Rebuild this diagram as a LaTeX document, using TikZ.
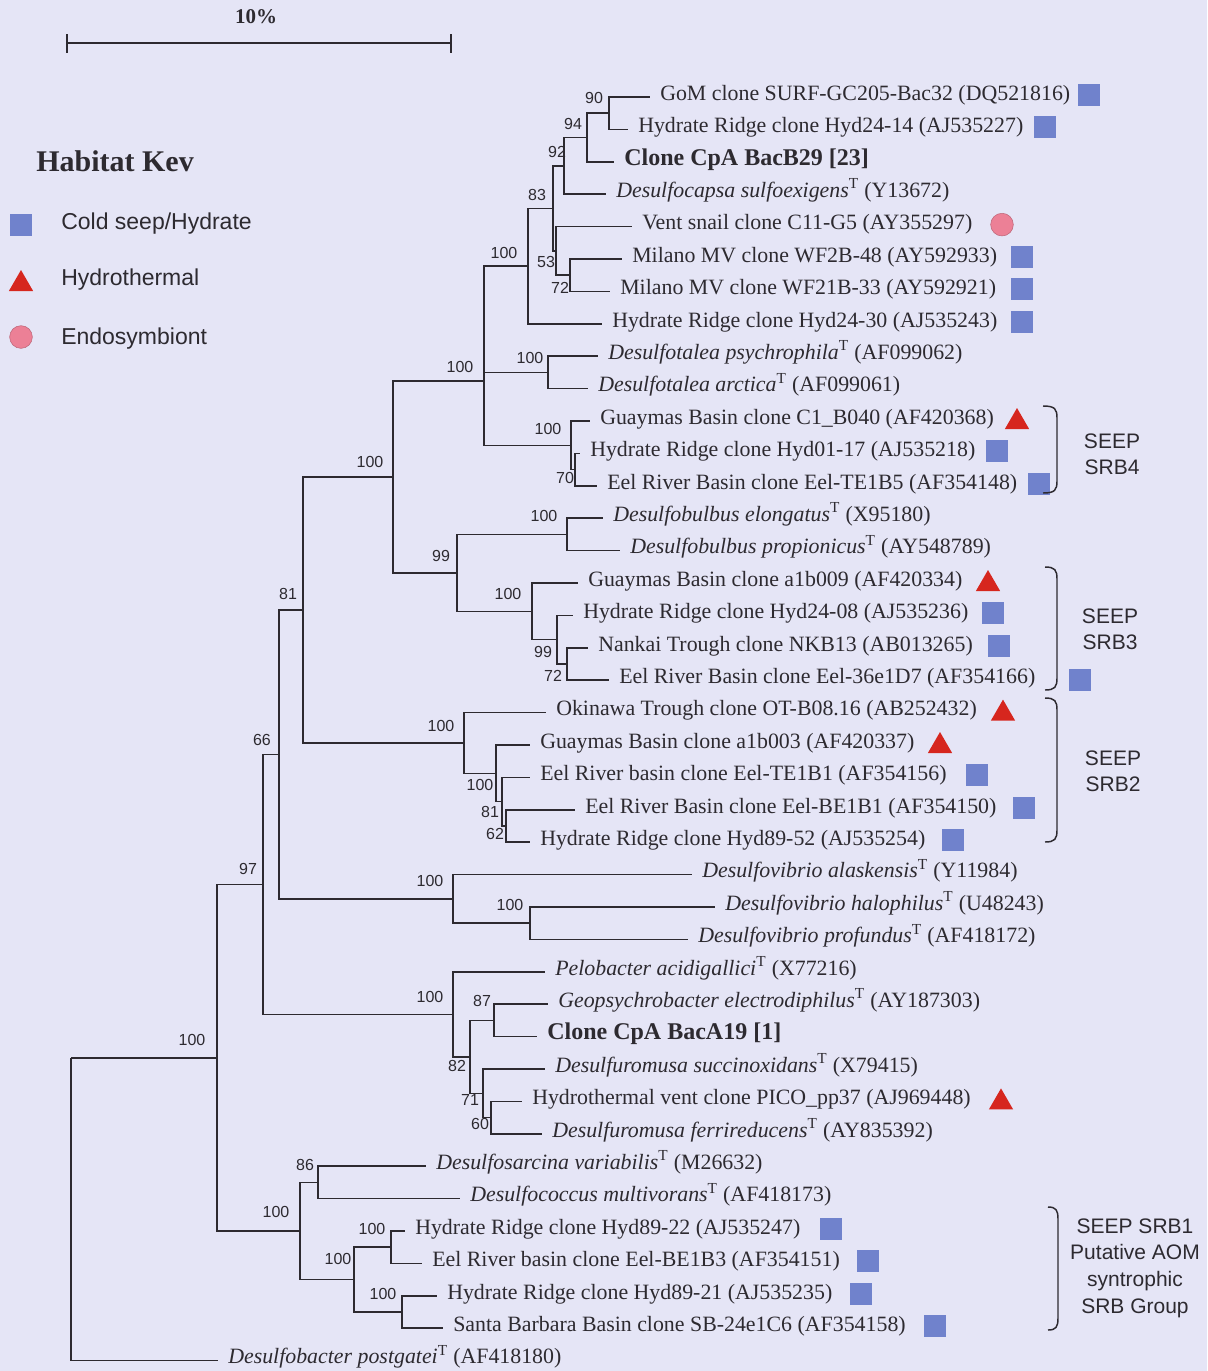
\documentclass[tikz,border=0pt]{standalone}
\usepackage{fontspec}
\setmainfont{Liberation Serif}
\setsansfont{Liberation Sans}
\usetikzlibrary{shapes.geometric}

\definecolor{paper}{RGB}{229,229,246}
\definecolor{ink}{RGB}{45,42,48}
\definecolor{seepblue}{RGB}{112,130,204}
\definecolor{ventred}{RGB}{214,38,30}
\definecolor{symbpink}{RGB}{236,128,150}

\newcommand{\tsup}{\textsuperscript{T}}

\tikzset{
  branch/.style={draw=ink, line width=1.45pt},
  leaf/.style={anchor=base west, inner sep=0pt, xshift=7.5pt, yshift=-2.25pt, text=ink, font=\fontsize{16.4}{19}\selectfont},
  boot/.style={inner sep=0pt, text=ink, font=\sffamily\fontsize{12}{14}\selectfont},
  seep/.style={rectangle, fill=seepblue, minimum size=16.5pt, inner sep=0pt},
  vent/.style={regular polygon, regular polygon sides=3, fill=ventred, minimum size=21pt, inner sep=0pt},
  symb/.style={circle, fill=symbpink, draw=symbpink!80!black, minimum size=17pt, inner sep=0pt},
  group/.style={align=center, text=ink, font=\sffamily\fontsize{15.75}{19.5}\selectfont},
  keytext/.style={anchor=base west, inner sep=0pt, text=ink, font=\sffamily\fontsize{17.25}{20}\selectfont},
  brace/.style={draw=ink, line width=1.1pt},
}

\begin{document}
\begin{tikzpicture}[x=0.75pt,y=0.75pt,yscale=-1,xscale=1]
	\fill[paper] (0,0) rectangle (1207,1371);
	\useasboundingbox (0,0) rectangle (1207,1371);

	%Scale bar
	\coordinate (sbl) at (67,43);
	\coordinate (sbr) at (451,43);
	\draw[branch, line width=0.9pt] (sbl) -- (sbr) (67,34) -- (67,53) (451,34) -- (451,53);
	\node[text=ink, font=\bfseries\fontsize{15.75}{18}\selectfont] (sbt) at (256,17) {10\%};

	%Habitat key
	\node[anchor=base west, inner sep=0pt, text=ink, font=\bfseries\fontsize{22.5}{24}\selectfont] (key) at (36,171) {Habitat Kev};
	\node[seep] (k1) at (21,225) {};
	\node[vent] (k2) at (21,284) {};
	\node[symb] (k3) at (21,337) {};
	\node[keytext] (k1t) at (61,229) {Cold seep/Hydrate};
	\node[keytext] (k2t) at (61,285) {Hydrothermal};
	\node[keytext] (k3t) at (61,344) {Endosymbiont};

	%Internal nodes
	\coordinate (root) at (71,1058);
	\coordinate (nIn) at (217,1058);
	\coordinate (nCore) at (263,884.5);
	\coordinate (nMid) at (279,754.5);
	\coordinate (nTop) at (303,610);
	\coordinate (nBulb) at (393,477);
	\coordinate (nTalea) at (484,381);
	\coordinate (nCapsa) at (528,266);
	\coordinate (n83) at (553,208.5);
	\coordinate (n92) at (564,166);
	\coordinate (n94) at (587,137.5);
	\coordinate (n90) at (609,113);
	\coordinate (n53) at (556,251);
	\coordinate (n72) at (570,275);
	\coordinate (nPsy) at (548,372.5);
	\coordinate (nSrb4) at (571,445.5);
	\coordinate (n70) at (575,469.5);
	\coordinate (n99) at (457,573);
	\coordinate (nElong) at (567,534.5);
	\coordinate (nSrb3) at (532,611.5);
	\coordinate (nSrb3a) at (557,639.5);
	\coordinate (nSrb3b) at (567,664);
	\coordinate (nSrb2) at (464,743);
	\coordinate (nSrb2a) at (496,773.5);
	\coordinate (nSrb2b) at (502,801.5);
	\coordinate (nSrb2c) at (506,826);
	\coordinate (nVib) at (453,899);
	\coordinate (nVib2) at (530,923);
	\coordinate (nPelo) at (453,1014.5);
	\coordinate (n82) at (470,1057);
	\coordinate (n87) at (494,1020.5);
	\coordinate (n71) at (483,1093.5);
	\coordinate (n60) at (491,1117.5);
	\coordinate (nLow) at (300,1231);
	\coordinate (n86) at (318,1182.5);
	\coordinate (nSrb1) at (354,1279.5);
	\coordinate (nSrb1a) at (391,1247);
	\coordinate (nSrb1b) at (402,1312);

	%Leaf tips
	\coordinate (l1) at (650,97);
	\coordinate (l2) at (628,129.5);
	\coordinate (l3) at (614,162);
	\coordinate (l4) at (606,194);
	\coordinate (l5) at (632,226.5);
	\coordinate (l6) at (622,259);
	\coordinate (l7) at (610,291.5);
	\coordinate (l8) at (602,324);
	\coordinate (l9) at (598,356);
	\coordinate (l10) at (588,388.5);
	\coordinate (l11) at (590,421);
	\coordinate (l12) at (580,453.5);
	\coordinate (l13) at (597,486);
	\coordinate (l14) at (603,518);
	\coordinate (l15) at (620,550.5);
	\coordinate (l16) at (578,583);
	\coordinate (l17) at (573,615.5);
	\coordinate (l18) at (588,648);
	\coordinate (l19) at (609,680);
	\coordinate (l20) at (546,712.5);
	\coordinate (l21) at (530,745);
	\coordinate (l22) at (530,777.5);
	\coordinate (l23) at (575,810);
	\coordinate (l24) at (530,842);
	\coordinate (l25) at (692,874.5);
	\coordinate (l26) at (715,907);
	\coordinate (l27) at (688,939.5);
	\coordinate (l28) at (545,972);
	\coordinate (l29) at (548,1004);
	\coordinate (l30) at (537,1036.5);
	\coordinate (l31) at (545,1069);
	\coordinate (l32) at (522,1101.5);
	\coordinate (l33) at (542,1134);
	\coordinate (l34) at (426,1166);
	\coordinate (l35) at (460,1198.5);
	\coordinate (l36) at (405,1231);
	\coordinate (l37) at (422,1263.5);
	\coordinate (l38) at (437,1296);
	\coordinate (l39) at (443,1328);
	\coordinate (l40) at (218,1360.5);

	%Branches
	\draw[branch] (root) |- (nIn) (root) |- (l40);
	\draw[branch] (nIn) |- (nCore) (nIn) |- (nLow);
	\draw[branch] (nCore) |- (nMid) (nCore) |- (nPelo);
	\draw[branch] (nMid) |- (nTop) (nMid) |- (nVib);
	\draw[branch] (nTop) |- (nBulb) (nTop) |- (nSrb2);
	\draw[branch] (nBulb) |- (nTalea) (nBulb) |- (n99);
	\draw[branch] (nTalea) |- (nCapsa) (nTalea) |- (nPsy) (nTalea) |- (nSrb4);
	\draw[branch] (nCapsa) |- (n83) (nCapsa) |- (l8);
	\draw[branch] (n83) |- (n92) (n83) |- (n53);
	\draw[branch] (n92) |- (n94) (n92) |- (l4);
	\draw[branch] (n94) |- (n90) (n94) |- (l3);
	\draw[branch] (n90) |- (l1) (n90) |- (l2);
	\draw[branch] (n53) |- (l5) (n53) |- (n72);
	\draw[branch] (n72) |- (l6) (n72) |- (l7);
	\draw[branch] (nPsy) |- (l9) (nPsy) |- (l10);
	\draw[branch] (nSrb4) |- (l11) (nSrb4) |- (n70);
	\draw[branch] (n70) |- (l12) (n70) |- (l13);
	\draw[branch] (n99) |- (nElong) (n99) |- (nSrb3);
	\draw[branch] (nElong) |- (l14) (nElong) |- (l15);
	\draw[branch] (nSrb3) |- (l16) (nSrb3) |- (nSrb3a);
	\draw[branch] (nSrb3a) |- (l17) (nSrb3a) |- (nSrb3b);
	\draw[branch] (nSrb3b) |- (l18) (nSrb3b) |- (l19);
	\draw[branch] (nSrb2) |- (l20) (nSrb2) |- (nSrb2a);
	\draw[branch] (nSrb2a) |- (l21) (nSrb2a) |- (nSrb2b);
	\draw[branch] (nSrb2b) |- (l22) (nSrb2b) |- (nSrb2c);
	\draw[branch] (nSrb2c) |- (l23) (nSrb2c) |- (l24);
	\draw[branch] (nVib) |- (l25) (nVib) |- (nVib2);
	\draw[branch] (nVib2) |- (l26) (nVib2) |- (l27);
	\draw[branch] (nPelo) |- (l28) (nPelo) |- (n82);
	\draw[branch] (n82) |- (n87) (n82) |- (n71);
	\draw[branch] (n87) |- (l29) (n87) |- (l30);
	\draw[branch] (n71) |- (l31) (n71) |- (n60);
	\draw[branch] (n60) |- (l32) (n60) |- (l33);
	\draw[branch] (nLow) |- (n86) (nLow) |- (nSrb1);
	\draw[branch] (n86) |- (l34) (n86) |- (l35);
	\draw[branch] (nSrb1) |- (nSrb1a) (nSrb1) |- (nSrb1b);
	\draw[branch] (nSrb1a) |- (l36) (nSrb1a) |- (l37);
	\draw[branch] (nSrb1b) |- (l38) (nSrb1b) |- (l39);

	%Bootstrap values
	\node[boot] (b1) at (594,98) {90};
	\node[boot] (b2) at (573,124) {94};
	\node[boot] (b3) at (557,152) {92};
	\node[boot] (b4) at (537,195) {83};
	\node[boot] (b5) at (504,253) {100};
	\node[boot] (b6) at (546,262) {53};
	\node[boot] (b7) at (560,288) {72};
	\node[boot] (b8) at (530,358) {100};
	\node[boot] (b9) at (460,367) {100};
	\node[boot] (b10) at (548,429) {100};
	\node[boot] (b11) at (565,478) {70};
	\node[boot] (b12) at (370,462) {100};
	\node[boot] (b13) at (544,516) {100};
	\node[boot] (b14) at (441,556) {99};
	\node[boot] (b15) at (508,594) {100};
	\node[boot] (b16) at (543,652) {99};
	\node[boot] (b17) at (553,676) {72};
	\node[boot] (b18) at (288,594) {81};
	\node[boot] (b19) at (441,726) {100};
	\node[boot] (b20) at (262,740) {66};
	\node[boot] (b21) at (480,785) {100};
	\node[boot] (b22) at (490,812) {81};
	\node[boot] (b23) at (495,834) {62};
	\node[boot] (b24) at (248,869) {97};
	\node[boot] (b25) at (430,881) {100};
	\node[boot] (b26) at (510,905) {100};
	\node[boot] (b27) at (430,997) {100};
	\node[boot] (b28) at (482,1001) {87};
	\node[boot] (b29) at (457,1066) {82};
	\node[boot] (b30) at (470,1100) {71};
	\node[boot] (b31) at (480,1124) {60};
	\node[boot] (b32) at (192,1040) {100};
	\node[boot] (b33) at (305,1165) {86};
	\node[boot] (b34) at (276,1212) {100};
	\node[boot] (b35) at (372,1229) {100};
	\node[boot] (b36) at (338,1259) {100};
	\node[boot] (b37) at (383,1294) {100};

	%Taxa
	\node[leaf] (t1) at (l1) {GoM clone SURF-GC205-Bac32 (DQ521816)};
	\node[leaf] (t2) at (l2) {Hydrate Ridge clone Hyd24-14 (AJ535227)};
	\node[leaf, font=\bfseries\fontsize{18}{19}\selectfont] (t3) at (l3) {Clone CpA BacB29 [23]};
	\node[leaf] (t4) at (l4) {\textit{Desulfocapsa sulfoexigens}\tsup{} (Y13672)};
	\node[leaf] (t5) at (l5) {Vent snail clone C11-G5 (AY355297)};
	\node[leaf] (t6) at (l6) {Milano MV clone WF2B-48 (AY592933)};
	\node[leaf] (t7) at (l7) {Milano MV clone WF21B-33 (AY592921)};
	\node[leaf] (t8) at (l8) {Hydrate Ridge clone Hyd24-30 (AJ535243)};
	\node[leaf] (t9) at (l9) {\textit{Desulfotalea psychrophila}\tsup{} (AF099062)};
	\node[leaf] (t10) at (l10) {\textit{Desulfotalea arctica}\tsup{} (AF099061)};
	\node[leaf] (t11) at (l11) {Guaymas Basin clone C1\_B040 (AF420368)};
	\node[leaf] (t12) at (l12) {Hydrate Ridge clone Hyd01-17 (AJ535218)};
	\node[leaf] (t13) at (l13) {Eel River Basin clone Eel-TE1B5 (AF354148)};
	\node[leaf] (t14) at (l14) {\textit{Desulfobulbus elongatus}\tsup{} (X95180)};
	\node[leaf] (t15) at (l15) {\textit{Desulfobulbus propionicus}\tsup{} (AY548789)};
	\node[leaf] (t16) at (l16) {Guaymas Basin clone a1b009 (AF420334)};
	\node[leaf] (t17) at (l17) {Hydrate Ridge clone Hyd24-08 (AJ535236)};
	\node[leaf] (t18) at (l18) {Nankai Trough clone NKB13 (AB013265)};
	\node[leaf] (t19) at (l19) {Eel River Basin clone Eel-36e1D7 (AF354166)};
	\node[leaf] (t20) at (l20) {Okinawa Trough clone OT-B08.16 (AB252432)};
	\node[leaf] (t21) at (l21) {Guaymas Basin clone a1b003 (AF420337)};
	\node[leaf] (t22) at (l22) {Eel River basin clone Eel-TE1B1 (AF354156)};
	\node[leaf] (t23) at (l23) {Eel River Basin clone Eel-BE1B1 (AF354150)};
	\node[leaf] (t24) at (l24) {Hydrate Ridge clone Hyd89-52 (AJ535254)};
	\node[leaf] (t25) at (l25) {\textit{Desulfovibrio alaskensis}\tsup{} (Y11984)};
	\node[leaf] (t26) at (l26) {\textit{Desulfovibrio halophilus}\tsup{} (U48243)};
	\node[leaf] (t27) at (l27) {\textit{Desulfovibrio profundus}\tsup{} (AF418172)};
	\node[leaf] (t28) at (l28) {\textit{Pelobacter acidigallici}\tsup{} (X77216)};
	\node[leaf] (t29) at (l29) {\textit{Geopsychrobacter electrodiphilus}\tsup{} (AY187303)};
	\node[leaf, font=\bfseries\fontsize{18}{19}\selectfont] (t30) at (l30) {Clone CpA BacA19 [1]};
	\node[leaf] (t31) at (l31) {\textit{Desulfuromusa succinoxidans}\tsup{} (X79415)};
	\node[leaf] (t32) at (l32) {Hydrothermal vent clone PICO\_pp37 (AJ969448)};
	\node[leaf] (t33) at (l33) {\textit{Desulfuromusa ferrireducens}\tsup{} (AY835392)};
	\node[leaf] (t34) at (l34) {\textit{Desulfosarcina variabilis}\tsup{} (M26632)};
	\node[leaf] (t35) at (l35) {\textit{Desulfococcus multivorans}\tsup{} (AF418173)};
	\node[leaf] (t36) at (l36) {Hydrate Ridge clone Hyd89-22 (AJ535247)};
	\node[leaf] (t37) at (l37) {Eel River basin clone Eel-BE1B3 (AF354151)};
	\node[leaf] (t38) at (l38) {Hydrate Ridge clone Hyd89-21 (AJ535235)};
	\node[leaf] (t39) at (l39) {Santa Barbara Basin clone SB-24e1C6 (AF354158)};
	\node[leaf] (t40) at (l40) {\textit{Desulfobacter postgatei}\tsup{} (AF418180)};

	%Habitat marks
	\node[seep] (h1) at (1089,95) {};
	\node[seep] (h2) at (1045,127.4) {};
	\node[symb] (h5) at (1002,224.6) {};
	\node[seep] (h6) at (1022,257) {};
	\node[seep] (h7) at (1022,289.4) {};
	\node[seep] (h8) at (1022,321.8) {};
	\node[vent] (h11) at (1017,422) {};
	\node[seep] (h12) at (997,451.4) {};
	\node[seep] (h13) at (1039,483.8) {};
	\node[vent] (h16) at (988,584) {};
	\node[seep] (h17) at (993,613.4) {};
	\node[seep] (h18) at (999,645.8) {};
	\node[seep] (h19) at (1080,680) {};
	\node[vent] (h20) at (1003,713.6) {};
	\node[vent] (h21) at (940,746) {};
	\node[seep] (h22) at (977,775.4) {};
	\node[seep] (h23) at (1024,807.8) {};
	\node[seep] (h24) at (953,840.2) {};
	\node[vent] (h32) at (1001,1102.4) {};
	\node[seep] (h36) at (831,1229) {};
	\node[seep] (h37) at (868,1261.4) {};
	\node[seep] (h38) at (861,1293.8) {};
	\node[seep] (h39) at (935,1326.2) {};

	%Group brackets
	\draw[brace] (1043,406) .. controls (1055,406) and (1057,409) .. (1057,418) -- (1057,481) .. controls (1057,490) and (1055,493) .. (1043,493);
	\draw[brace] (1045,567) .. controls (1055,567) and (1057,570) .. (1057,579) -- (1057,678) .. controls (1057,687) and (1055,690) .. (1045,690);
	\draw[brace] (1045,698) .. controls (1055,698) and (1057,701) .. (1057,710) -- (1057,830) .. controls (1057,839) and (1055,842) .. (1045,842);
	\draw[brace] (1048,1207) .. controls (1056,1207) and (1058,1210) .. (1058,1219) -- (1058,1318) .. controls (1058,1327) and (1056,1330) .. (1048,1330);

	\node[group] (g4) at (1112,454) {SEEP\\SRB4};
	\node[group] (g3) at (1110,629) {SEEP\\SRB3};
	\node[group] (g2) at (1113,771) {SEEP\\SRB2};
	\node[group, font=\sffamily\fontsize{15.75}{20}\selectfont] (g1) at (1135,1268) {SEEP SRB1\\Putative AOM\\syntrophic\\SRB Group};
\end{tikzpicture}
\end{document}
